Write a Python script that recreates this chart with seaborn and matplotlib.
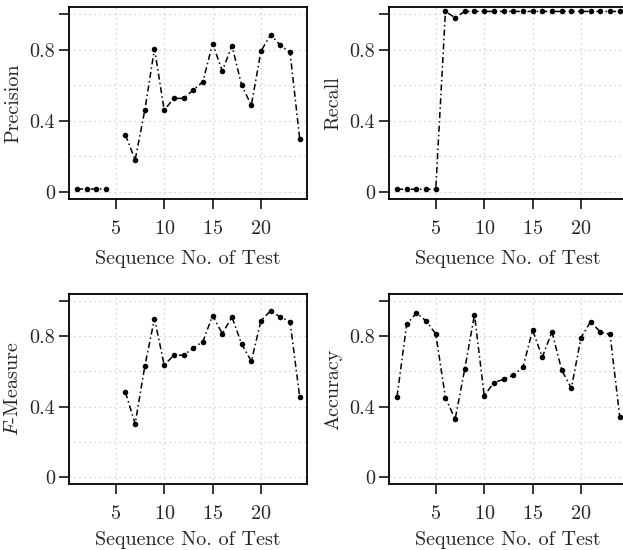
import numpy as np
import pandas as pd
import matplotlib
matplotlib.use("Agg")
import matplotlib.pyplot as plt
import seaborn as sns

# --- data ---
test_no = list(range(1, 25))
precision = [0.015, 0.015, 0.015, 0.015, np.nan, 0.32, 0.18, 0.46, 0.806, 0.46,
             0.526, 0.526, 0.573, 0.62, 0.834, 0.68, 0.823, 0.60, 0.488, 0.792,
             0.885, 0.825, 0.785, 0.297]
recall = [0.015, 0.015, 0.015, 0.015, 0.015, 1.015, 0.98, 1.015, 1.015, 1.015,
          1.015, 1.015, 1.015, 1.015, 1.015, 1.015, 1.015, 1.015, 1.015, 1.015,
          1.015, 1.015, 1.015, 1.015]
f_measure = [np.nan, np.nan, np.nan, np.nan, np.nan, 0.481, 0.302, 0.63, 0.90, 0.636,
             0.692, 0.692, 0.732, 0.77, 0.917, 0.815, 0.909, 0.755, 0.658, 0.889,
             0.945, 0.909, 0.883, 0.453]
accuracy = [0.457, 0.868, 0.932, 0.887, 0.813, 0.451, 0.328, 0.615, 0.923, 0.462,
            0.536, 0.555, 0.579, 0.623, 0.834, 0.681, 0.825, 0.609, 0.504, 0.792,
            0.883, 0.823, 0.811, 0.343]

panels = [("Precision", precision), ("Recall", recall),
          ("$F$-Measure", f_measure), ("Accuracy", accuracy)]
x_ticks = [5, 10, 15, 20]
y_ticks = [0, 0.4, 0.8, 1.0]
y_tick_labels = ["0", "0.4", "0.8", ""]
grid_y = [0, 0.2, 0.4, 0.6, 0.8, 1.0]

sns.set_style("white")
plt.rcParams["font.family"] = ["cmr10", "DejaVu Serif"]
plt.rcParams["mathtext.fontset"] = "cm"
plt.rcParams["axes.unicode_minus"] = False
plt.rcParams["axes.formatter.use_mathtext"] = True

FS = 14.5
fig = plt.figure(figsize=(6.23, 5.5), dpi=100)
W, H = 623, 550
# axes boxes in pixels: left, top, width, height
boxes = [(69, 7, 238, 192), (389, 7, 238, 192),
         (69, 294, 238, 190), (389, 294, 238, 190)]

for i, ((label, vals), (l, t, w, h)) in enumerate(zip(panels, boxes)):
    ax = fig.add_axes([l / W, 1 - (t + h) / H, w / W, h / H])
    df = pd.DataFrame({"x": test_no, "y": vals})
    # split into runs so gaps (missing values) stay broken
    df["seg"] = df["y"].isna().cumsum()
    df = df.dropna()
    sns.lineplot(data=df, x="x", y="y", units="seg", estimator=None,
                 color="black", linestyle=(0, (4, 2, 1, 2)), linewidth=1.1,
                 marker="o", markersize=4.0, markeredgewidth=0,
                 markerfacecolor="black", ax=ax, legend=False)
    ax.set_xlim(0.17, 24.75)
    ax.set_ylim(-0.04, 1.04)
    for gx in x_ticks:
        ax.axvline(gx, color="#c8c8c8", linestyle=(0, (1, 3)), linewidth=0.9, zorder=0)
    for gy in grid_y:
        ax.axhline(gy, color="#c8c8c8", linestyle=(0, (1, 3)), linewidth=0.9, zorder=0)
    ax.set_xticks(x_ticks)
    ax.set_yticks(y_ticks)
    ax.set_yticklabels(y_tick_labels)
    ax.tick_params(axis="both", direction="out", length=7, width=1.1,
                   color="black", labelsize=FS, left=True, bottom=True)
    ax.tick_params(axis="x", pad=8)
    ax.tick_params(axis="y", pad=3)
    for sp in ax.spines.values():
        sp.set_color("black")
        sp.set_linewidth(1.3)
    ax.set_ylabel(label, fontsize=FS, labelpad=5)
    ax.set_xlabel("Sequence No. of Test", fontsize=FS, labelpad=9 if i < 2 else 6)

fig.savefig("out.png", dpi=100)
